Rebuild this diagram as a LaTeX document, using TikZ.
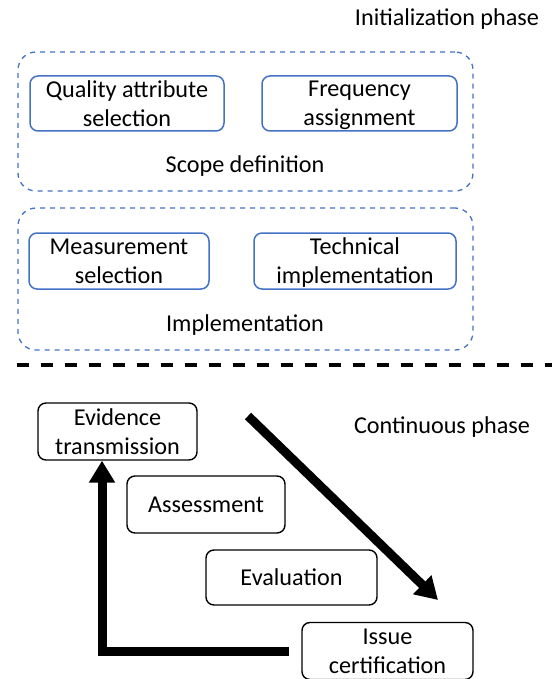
\documentclass[tikz,border=0pt]{standalone}
\usepackage{fontspec}
\setmainfont{Carlito}
\usetikzlibrary{arrows.meta}
\definecolor{bl}{HTML}{4472C4}
\newcommand{\nodepth}[1]{\raisebox{0pt}[\height][0pt]{#1}}
\begin{document}
\begin{tikzpicture}[x=1pt,y=-1pt,
  every node/.style={font=\fontsize{24.2}{29}\selectfont, align=center, inner sep=0pt},
  group/.style={draw=bl, line width=1.3pt, dash pattern=on 5pt off 5pt, rounded corners=18pt},
  bluebox/.style={draw=bl, line width=1.5pt, rounded corners=8pt},
  blackbox/.style={draw=black, line width=1.4pt, rounded corners=8pt},
  flow/.style={line width=9pt, -{Triangle[length=22pt,width=25pt]}},
  sep/.style={line width=4pt, dash pattern=on 12pt off 12pt}]
\useasboundingbox (0,0) rectangle (552,679);
% initialization phase
\node (init) at (447,19) {Initialization phase};
\node[group, minimum width=455pt, minimum height=139pt] (scope) at (245.5,121.5) {};
\node[bluebox, minimum width=194pt, minimum height=55pt] (qa) at (127,103.5) {Quality attribute\\selection};
\node[bluebox, minimum width=195pt, minimum height=55pt] (fa) at (359.5,103.5) {Frequency\\\nodepth{assignment}};
\node (scopelbl) at (245,166) {Scope definition};
\node[group, minimum width=455pt, minimum height=142pt] (impl) at (245.5,279) {};
\node[bluebox, minimum width=180pt, minimum height=56pt] (ms) at (119,261) {Measurement\\selection};
\node[bluebox, minimum width=202pt, minimum height=56pt] (ti) at (355,261) {Technical\\\nodepth{implementation}};
\node (impllbl) at (245,325) {Implementation};
% separator
\coordinate (s1) at (17,365);
\coordinate (s2) at (552,365);
\draw[sep] (s1) -- (s2);
% continuous phase
\node (cont) at (442,427) {Continuous phase};
\node[blackbox, minimum width=159pt, minimum height=57pt] (ev) at (117.5,431.5) {Evidence\\transmission};
\node[blackbox, minimum width=158pt, minimum height=57pt] (as) at (206,504.5) {Assessment};
\node[blackbox, minimum width=171pt, minimum height=55pt] (eva) at (291.5,577.5) {Evaluation};
\node[blackbox, minimum width=171pt, minimum height=57pt] (ic) at (387.5,651) {Issue\\certification};
\coordinate (d1) at (248,416);
\coordinate (d2) at (438,600);
\draw[flow] (d1) -- (d2);
\draw[flow] ([xshift=-12pt]ic.west) -| ([xshift=-15.5pt]ev.south);
\end{tikzpicture}
\end{document}
